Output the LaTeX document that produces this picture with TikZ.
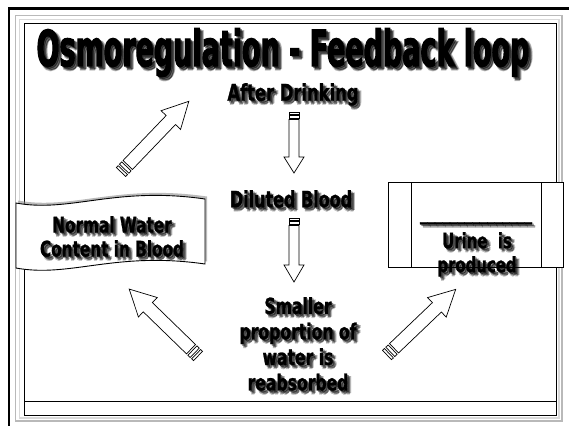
\documentclass[tikz,border=0pt]{standalone}
\usepackage{fontspec}
\usetikzlibrary{calc}
\newfontfamily\imp[FakeStretch=0.79, FakeBold=1.2]{DejaVu Sans Condensed Bold}
\newfontfamily\impt[FakeStretch=0.6, FakeBold=2]{DejaVu Sans Condensed Bold}
\tikzset{
  lbl/.style={anchor=north, align=center, inner sep=0pt, text=black},
  arrowline/.style={draw=black, line width=0.7pt, fill=white, line join=miter},
  boxline/.style={draw=black, line width=0.9pt, fill=white},
}
\newcommand\shtext[5]{%
  \foreach \dx/\dy/\op in {1.5/1.5/0.4, 3/3/0.35, 4/2.5/0.2, 2.5/4/0.2}{%
    \node[lbl, font={#3}, opacity=\op] at ($(#2)+(\dx,\dy)$) {#5};}
  \node[lbl, font={#3}] (#1) at (#2) {#5};}
\newcommand\stripedarrow[6]{% tail, angle, length, shaft w, head w, head len
  \begin{scope}[shift={(#1)}, rotate=#2]
    \pgfmathsetmacro\hs{#4/2}\pgfmathsetmacro\hh{#5/2}
    \pgfmathsetmacro\sa{0.2*#4}\pgfmathsetmacro\sb{0.35*#4}
    \pgfmathsetmacro\sc{0.6*#4}\pgfmathsetmacro\sd{0.75*#4}
    \pgfmathsetmacro\hb{#3-#6}
    \draw[arrowline] (0,-\hs) rectangle (\sa,\hs);
    \draw[arrowline] (\sb,-\hs) rectangle (\sc,\hs);
    \draw[arrowline] (\sd,-\hs) -- (\hb,-\hs) -- (\hb,-\hh) -- (#3,0) -- (\hb,\hh) -- (\hb,\hs) -- (\sd,\hs) -- cycle;
  \end{scope}}
\begin{document}
\begin{tikzpicture}[x=1pt,y=-1pt]
\useasboundingbox (0,0) rectangle (569,426);
\fill[white] (0,0) rectangle (569,426);
% frame
\draw[gray!55, line width=1.6pt] (15.5,15.5) rectangle (562,421);
\draw[gray!30, line width=1.2pt] (19.5,19.5) rectangle (559,418);
\draw[black, line width=1pt] (24,23) rectangle (556,415);
\draw[black, line width=0.9pt] (24,401) -- (556,401);
\draw[black, line width=2.6pt] (569,8.5) -- (9,8.5) -- (9,426);
% banner
\path[fill=black!45, opacity=0.6, shift={(2,-2.5)}] (16,203) .. controls (70,213) and (115,186) .. (205,199) -- (205,264) .. controls (115,251) and (70,278) .. (16,268) -- cycle;
\path[boxline] (16,203) .. controls (70,213) and (115,186) .. (205,199) -- (205,264) .. controls (115,251) and (70,278) .. (16,268) -- cycle;
% right box
\draw[boxline] (388,182) rectangle (563,267);
\draw[black, line width=0.9pt] (411,182) -- (411,267) (541,182) -- (541,267);
% coordinates
\coordinate (ptitle) at (283,28);
\coordinate (pafter) at (293,83);
\coordinate (pdil) at (291,190);
\coordinate (psmall) at (298,297);
\coordinate (pnorm) at (112,216);
\coordinate (purine) at (477,232);
\coordinate (pline) at (476,224.5);
\coordinate (a1t) at (121,172);
\coordinate (a2t) at (294,112);
\coordinate (a3t) at (294,218);
\coordinate (a4t) at (198,356);
\coordinate (a5t) at (387,355);
% texts
\shtext{title}{ptitle}{\impt\fontsize{50}{55}\selectfont}{}{Osmoregulation - Feedback loop}
\shtext{after}{pafter}{\imp\fontsize{23}{26}\selectfont}{}{After Drinking}
\shtext{diluted}{pdil}{\imp\fontsize{22.5}{25}\selectfont}{}{Diluted Blood}
\shtext{smaller}{psmall}{\imp\fontsize{22}{25.5}\selectfont}{}{Smaller\\proportion of\\water is\\reabsorbed}
\shtext{normal}{pnorm}{\imp\fontsize{21.5}{24}\selectfont}{}{Normal Water\\Content in Blood}
\shtext{urine}{purine}{\imp\fontsize{21}{24}\selectfont}{}{Urine\ \ is\\produced}
\foreach \dx/\dy/\op in {1.5/1.5/0.4, 3/3/0.35}{%
  \node[inner sep=0pt, anchor=south, font={\imp\fontsize{21}{24}\selectfont}, opacity=\op] at ($(pline)+(\dx,\dy)$) {\_\_\_\_\_\_\_\_\_\_\_\_\_\_\_};}
\node[inner sep=0pt, anchor=south, font={\imp\fontsize{21}{24}\selectfont}] (blank) at (pline) {\_\_\_\_\_\_\_\_\_\_\_\_\_\_\_};
% arrows
\stripedarrow{a1t}{46.2}{98}{13}{27}{26}
\stripedarrow{a2t}{-90}{61}{10}{20}{16}
\stripedarrow{a3t}{-90}{64}{10}{20}{17}
\stripedarrow{a4t}{135.8}{96}{13}{27}{26}
\stripedarrow{a5t}{43.7}{95}{13}{27}{26}
\end{tikzpicture}
\end{document}
